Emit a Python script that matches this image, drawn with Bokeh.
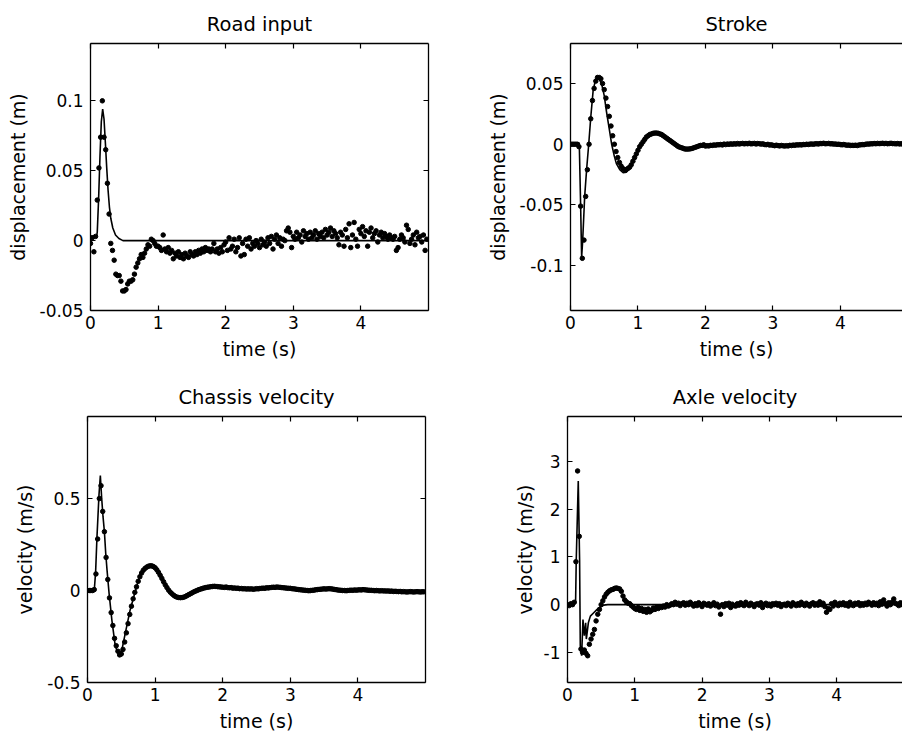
import numpy as np
from bokeh.plotting import figure
from bokeh.models import Range1d, LinearAxis, FixedTicker, CustomJSTickFormatter
from bokeh.layouts import column, row
from bokeh.embed import file_html
from bokeh.resources import INLINE

# ---------------- data ----------------
SAMPLE_DT = 0.025  # measurement sampling interval (s)
x_ticks = [0, 1, 2, 3, 4]

# Road input: measured dots
road_dots = [
    -0.002, 0.002, -0.008, 0.003, 0.029, 0.052, 0.074, 0.100, 0.074, 0.065,
    0.041, 0.019, -0.002, -0.007, -0.014, -0.024, -0.025, -0.025, -0.029, -0.036,
    -0.036, -0.035, -0.031, -0.029, -0.029, -0.028, -0.024, -0.019, -0.016, -0.013,
    -0.010, -0.012, -0.009, -0.006, -0.003, -0.004, 0.001, 0.000, -0.002, -0.004,
    -0.004, -0.005, -0.007, 0.004, -0.006, -0.008, -0.005, -0.009, -0.007, -0.013,
    -0.009, -0.011, -0.008, -0.012, -0.010, -0.013, -0.009, -0.011, -0.012, -0.008,
    -0.010, -0.011, -0.008, -0.010, -0.007, -0.009, -0.006, -0.008, -0.005, -0.007,
    -0.006, -0.008, -0.006, -0.002, -0.008, -0.006, -0.009, -0.005, -0.008, -0.003,
    -0.001, -0.007, 0.002, -0.006, -0.004, 0.001, -0.008, -0.005, 0.002, -0.011,
    -0.002, -0.010, 0.001, -0.004, 0.002, -0.006, -0.002, -0.004, 0.000, -0.002,
    -0.005, 0.001, -0.003, -0.001, -0.004, 0.002, -0.002, 0.003, -0.006, 0.001,
    0.004, -0.002, 0.002, -0.004, 0.001, 0.000, 0.007, 0.009, 0.006, -0.005,
    0.003, 0.001, 0.006, 0.002, 0.004, -0.001, 0.007, 0.003, 0.005, 0.001,
    0.006, 0.002, 0.004, 0.007, 0.001, 0.005, 0.003, 0.006, 0.002, 0.008,
    0.004, 0.006, 0.009, 0.003, 0.007, 0.005, 0.002, -0.003, 0.006, 0.004,
    -0.004, 0.008, 0.002, 0.012, -0.005, 0.004, 0.013, 0.001, -0.004, 0.008,
    0.005, 0.010, 0.003, 0.007, -0.004, 0.006, 0.009, 0.002, 0.005, 0.007,
    -0.001, 0.004, 0.006, 0.002, 0.005, 0.003, 0.001, 0.004, 0.002, 0.001,
    0.003, -0.007, -0.005, 0.001, 0.004, 0.002, -0.001, 0.011, 0.008, -0.002,
    0.001, 0.004, -0.003, 0.006, 0.002, 0.003, -0.001, 0.004, -0.007, 0.001,
]
# Road input: model line
road_line_t = [0, 0.09, 0.10, 0.12, 0.14, 0.16, 0.18, 0.20, 0.22, 0.24, 0.26,
               0.28, 0.30, 0.33, 0.37, 0.42, 0.48, 5.0]
road_line_v = [0.003, 0.003, 0.006, 0.030, 0.060, 0.085, 0.094, 0.087, 0.070,
               0.052, 0.036, 0.024, 0.016, 0.009, 0.004, 0.0015, 0.0, 0.0]

# Stroke: measured dots
stroke_dots = [
    0.0, 0.0, 0.0, 0.0, 0.0, -0.002, -0.051, -0.094, -0.079, -0.043,
    -0.021, 0.000, 0.021, 0.036, 0.046, 0.052, 0.055, 0.055, 0.054, 0.050,
    0.045, 0.038, 0.031, 0.023, 0.015, 0.007, 0.000, -0.006, -0.011, -0.015,
    -0.018, -0.020, -0.021, -0.021, -0.020, -0.019, -0.017, -0.014, -0.011, -0.008,
    -0.005, -0.002, 0.000, 0.002, 0.004, 0.006, 0.007, 0.008, 0.0085, 0.009,
    0.0092, 0.0092, 0.009, 0.0085, 0.008, 0.007, 0.006, 0.005, 0.004, 0.003,
    0.002, 0.001, 0.000, -0.001, -0.002, -0.0025, -0.003, -0.0035, -0.004, -0.004,
    -0.004, -0.0038, -0.0035, -0.003, -0.0025, -0.002, -0.0015, -0.001, -0.001, -0.0005,
    -0.0015, -0.0012, -0.0014, -0.0009, -0.0010, -0.0006, -0.0008, -0.0004,
    -0.0005, -0.0002, -0.0006, 0.0001, -0.0003, 0.0002, -0.0001, 0.0003,
    0.0000, 0.0004, 0.0001, 0.0006, 0.0002, 0.0005, 0.0007, 0.0003,
    0.0006, 0.0004, 0.0008, 0.0003, 0.0005, 0.0007, 0.0002, 0.0006,
    0.0004, 0.0001, 0.0003, -0.0002, -0.0004, -0.0001, -0.0007, -0.0005,
    -0.0009, -0.0012, -0.0008, -0.0011, -0.0014, -0.0010, -0.0013, -0.0015,
    -0.0012, -0.0014, -0.0009, -0.0011, -0.0007, -0.0009, -0.0005, -0.0006,
    -0.0004, -0.0006, -0.0002, -0.0003, 0.0000, -0.0002, 0.0001, 0.0002,
    0.0000, 0.0003, 0.0004, 0.0002, 0.0006, 0.0005, 0.0008, 0.0004,
    0.0005, 0.0007, 0.0003, 0.0004, 0.0001, 0.0002, -0.0001, 0.0000,
    -0.0003, -0.0005, -0.0002, -0.0006, -0.0008, -0.0007, -0.0010, -0.0009,
    -0.0010, -0.0008, -0.0011, -0.0006, -0.0005, -0.0003, -0.0004, 0.0000,
    0.0002, 0.0001, 0.0004, 0.0003, 0.0006, 0.0004, 0.0007, 0.0005,
    0.0006, 0.0008, 0.0005, 0.0007, 0.0004, 0.0006, 0.0008, 0.0005,
    0.0005, 0.0003, 0.0006, 0.0002, 0.0004, 0.0001, 0.0003, 0.0000,
]
stroke_line_t = [0, 0.13, 0.15, 0.165, 0.18, 0.21, 0.24, 0.27, 0.30, 0.335, 0.37,
                 0.41, 0.46, 0.50, 0.53, 0.57, 0.61, 0.65, 0.68, 0.73, 0.78, 0.83,
                 0.88, 0.94, 1.00, 1.08, 1.15, 1.22, 1.28, 1.35, 1.40, 1.48, 1.55,
                 1.62, 1.70, 1.78, 1.85, 1.95, 2.10, 2.40, 3.00, 3.30, 3.60, 4.00,
                 4.50, 5.0]
stroke_line_v = [0.001, 0.001, -0.050, -0.093, -0.080, -0.043, -0.020, 0.000,
                 0.022, 0.044, 0.053, 0.055, 0.050, 0.040, 0.028, 0.014, 0.000,
                 -0.010, -0.016, -0.021, -0.0235, -0.023, -0.019, -0.012, -0.005,
                 0.003, 0.007, 0.009, 0.0095, 0.008, 0.006, 0.002, -0.001, -0.003,
                 -0.004, -0.004, -0.003, -0.0015, -0.0005, 0.0, -0.001, -0.001,
                 0.0, 0.0, 0.0005, 0.0]

# Chassis velocity: measured dots
chassis_dots = [
    0.0, 0.0, 0.0, 0.0, 0.005, 0.09, 0.28, 0.50, 0.57, 0.43,
    0.32, 0.18, 0.06, -0.04, -0.12, -0.19, -0.26, -0.30, -0.33, -0.35,
    -0.345, -0.32, -0.28, -0.23, -0.18, -0.13, -0.085, -0.045, -0.01, 0.02,
    0.05, 0.075, 0.095, 0.11, 0.12, 0.127, 0.132, 0.134, 0.134, 0.13,
    0.124, 0.113, 0.099, 0.083, 0.066, 0.048, 0.031, 0.016, 0.002, -0.009,
    -0.018, -0.026, -0.032, -0.036, -0.038, -0.039, -0.038, -0.036, -0.032, -0.027,
    -0.022, -0.017, -0.012, -0.007, -0.003, 0.001, 0.005, 0.008, 0.011, 0.014,
    0.016, 0.018, 0.019, 0.021, 0.022, 0.023, 0.022, 0.021, 0.020, 0.019,
    0.018, 0.017, 0.019, 0.016, 0.015, 0.016, 0.013, 0.014,
    0.012, 0.013, 0.010, 0.011, 0.009, 0.010, 0.008, 0.009,
    0.008, 0.009, 0.007, 0.008, 0.010, 0.009, 0.011, 0.012,
    0.013, 0.012, 0.015, 0.014, 0.016, 0.017, 0.018, 0.017,
    0.019, 0.018, 0.017, 0.016, 0.015, 0.014, 0.013, 0.012,
    0.012, 0.010, 0.009, 0.008, 0.006, 0.005, 0.004, 0.003,
    0.002, 0.001, 0.000, -0.001, 0.000, 0.001, 0.002, 0.004,
    0.005, 0.006, 0.007, 0.008, 0.009, 0.008, 0.009, 0.010,
    0.009, 0.008, 0.006, 0.005, 0.003, 0.002, 0.001, 0.000,
    0.000, -0.001, 0.000, 0.001, 0.002, 0.001, 0.003, 0.002,
    0.003, 0.004, 0.003, 0.005, 0.004, 0.003, 0.002, 0.001,
    0.001, 0.000, -0.001, 0.000, -0.001, -0.002, -0.001, -0.002,
    -0.002, -0.003, -0.002, -0.004, -0.003, -0.005, -0.004, -0.005,
    -0.006, -0.005, -0.007, -0.006, -0.007, -0.008, -0.007, -0.006,
    -0.007, -0.008, -0.007, -0.006, -0.007, -0.008, -0.007, -0.007,
]
chassis_line_t = [0, 0.10, 0.12, 0.14, 0.17, 0.19, 0.21, 0.23, 0.25, 0.27, 0.29,
                  0.32, 0.36, 0.41, 0.45, 0.48, 0.51, 0.56, 0.63, 0.71, 0.78,
                  0.86, 0.95, 1.00, 1.08, 1.15, 1.23, 1.30, 1.40, 1.50, 1.65,
                  1.80, 1.90, 2.04, 2.30, 2.50, 2.80, 3.00, 3.30, 3.60, 3.80,
                  4.10, 4.40, 4.70, 5.0]
chassis_line_v = [0.0, 0.0, 0.10, 0.29, 0.52, 0.625, 0.50, 0.40, 0.32, 0.20,
                  0.107, -0.018, -0.16, -0.30, -0.34, -0.345, -0.32, -0.23,
                  -0.107, 0.0, 0.089, 0.12, 0.134, 0.128, 0.089, 0.036, -0.009,
                  -0.032, -0.038, -0.025, 0.004, 0.020, 0.023, 0.018, 0.010,
                  0.008, 0.018, 0.012, 0.0, 0.009, 0.0, 0.004, -0.002, -0.007,
                  -0.007]

# Axle velocity: measured dots
axle_dots = [
    0.0, -0.02, 0.02, 0.0, 0.05, 0.90, 2.80, 1.43, -0.93, -1.00,
    -0.95, -1.02, -1.07, -0.83, -0.72, -0.62, -0.52, -0.34, -0.20, -0.10,
    0.00, 0.08, 0.16, 0.22, 0.26, 0.29, 0.31, 0.32, 0.34, 0.35,
    0.34, 0.33, 0.28, 0.18, 0.10, 0.06, 0.03, 0.02, -0.02, -0.05,
    -0.08, -0.10, -0.06, -0.12, -0.08, -0.14, -0.10, -0.16, -0.09, -0.15,
    -0.12, -0.07, -0.10, -0.05, -0.08, -0.04, -0.06, -0.03, -0.05, 0.00,
    -0.03, -0.01, 0.02, 0.00, 0.05, 0.01, 0.03, -0.02,
    0.02, 0.04, -0.01, 0.03, 0.00, 0.05, 0.01, -0.03,
    0.02, -0.02, 0.04, 0.00, -0.04, 0.03, 0.01, -0.01,
    0.02, -0.03, 0.00, 0.04, -0.02, 0.01, -0.05, -0.20,
    0.00, -0.04, 0.02, -0.01, 0.03, -0.06, 0.01, -0.02,
    -0.03, 0.02, -0.01, 0.04, 0.00, -0.02, 0.05, 0.01,
    -0.02, 0.03, 0.00, -0.04, 0.01, 0.02, -0.01, 0.04,
    -0.06, 0.00, 0.03, -0.02, 0.01, -0.03, 0.02, 0.00,
    0.03, -0.01, 0.02, -0.04, 0.00, 0.01, -0.02, 0.03,
    0.00, -0.03, 0.04, 0.01, -0.02, 0.02, -0.01, 0.05,
    0.01, -0.02, 0.03, 0.00, -0.03, 0.02, 0.04, -0.01,
    0.02, -0.01, 0.06, 0.00, 0.03, -0.04, -0.16, -0.08,
    -0.10, 0.02, -0.03, 0.05, 0.01, -0.02, 0.03, 0.00,
    0.04, -0.01, 0.02, -0.03, 0.05, 0.00, -0.02, 0.03,
    0.01, 0.04, -0.02, 0.02, -0.01, 0.03, 0.00, 0.05,
    0.02, -0.01, 0.04, 0.00, 0.03, -0.02, 0.06, 0.01,
    0.10, 0.02, -0.03, 0.04, 0.00, 0.05, 0.12, 0.03,
    0.01, -0.02, 0.04, 0.00,
]
axle_line_t = [0, 0.12, 0.13, 0.16, 0.18, 0.19, 0.21, 0.23, 0.25, 0.27, 0.28,
               0.31, 0.34, 0.39, 0.44, 0.49, 0.54, 0.60, 5.0]
axle_line_v = [0.0, 0.03, 0.93, 2.59, 0.93, -0.86, -1.07, -0.31, -0.65, -0.38,
               -0.72, -0.38, -0.24, -0.17, -0.10, -0.05, -0.01, 0.0, 0.0]

# ---------------- styling ----------------
FONT = "DejaVu Sans"


def times_for(values):
    return np.arange(len(values)) * SAMPLE_DT


def style_axis(ax, ticks, standoff, show_labels=True):
    ax.ticker = FixedTicker(ticks=ticks)
    ax.formatter = CustomJSTickFormatter(code="return String(tick);")
    ax.axis_line_color = "black"
    ax.axis_line_width = 1.3
    ax.major_tick_line_color = "black"
    ax.major_tick_line_width = 1.2
    ax.major_tick_in = 5
    ax.major_tick_out = 0
    ax.minor_tick_line_color = None
    ax.major_label_text_font = FONT
    if show_labels:
        ax.major_label_text_color = "black"
        ax.major_label_text_font_size = "17px"
        ax.major_label_standoff = standoff
    else:
        ax.major_label_text_color = None
        ax.major_label_text_font_size = "1px"
        ax.major_label_standoff = 0
    ax.axis_label_text_font = FONT
    ax.axis_label_text_font_size = "19px"
    ax.axis_label_text_font_style = "normal"
    ax.axis_label_text_color = "black"


def panel(title, ylabel, xend, yr, yticks, dots, lt, lv, width, height,
          bl, br, bt, bb, box_right, ylab_standoff=8):
    p = figure(width=width, height=height, output_backend="svg",
               toolbar_location=None, title=title,
               x_range=Range1d(0, xend), y_range=Range1d(*yr),
               min_border_left=bl, min_border_right=br,
               min_border_top=bt, min_border_bottom=bb)
    p.outline_line_color = None
    p.grid.visible = False
    p.background_fill_color = "white"
    p.border_fill_color = "white"
    p.title.align = "center"
    p.title.text_font = FONT
    p.title.text_font_size = "19.5px"
    p.title.text_font_style = "normal"
    p.title.text_color = "black"
    p.title.standoff = 16

    style_axis(p.xaxis[0], x_ticks, 5)
    style_axis(p.yaxis[0], yticks, 7)
    p.xaxis[0].axis_label = "time (s)"
    p.xaxis[0].axis_label_standoff = 6
    p.yaxis[0].axis_label = ylabel
    p.yaxis[0].axis_label_standoff = ylab_standoff

    top = LinearAxis()
    style_axis(top, x_ticks, 0, show_labels=False)
    p.add_layout(top, "above")
    if box_right:
        rgt = LinearAxis()
        style_axis(rgt, yticks, 0, show_labels=False)
        p.add_layout(rgt, "right")

    p.line(lt, lv, line_color="black", line_width=1.6)
    p.scatter(times_for(dots), dots, size=4.5, marker="circle",
              fill_color="black", line_color="black")
    return p


# top row: 0..370 px tall; bottom row: 370..739 px
p1 = panel("Road input", "displacement (m)", 5.0, (-0.05, 0.141),
           [-0.05, 0, 0.05, 0.1], road_dots, road_line_t, road_line_v,
           480, 370, 90, 52, 43, 60, True)
p2 = panel("Stroke", "displacement (m)", 4.92, (-0.137, 0.083),
           [-0.1, -0.05, 0, 0.05], stroke_dots, stroke_line_t, stroke_line_v,
           422, 370, 90, 0, 43, 60, False)
p3 = panel("Chassis velocity", "velocity (m/s)", 5.0, (-0.5, 0.946),
           [-0.5, 0, 0.5], chassis_dots, chassis_line_t, chassis_line_v,
           480, 369, 87, 55, 46, 57, True)
p4 = panel("Axle velocity", "velocity (m/s)", 4.98, (-1.63, 3.94),
           [-1, 0, 1, 2, 3], axle_dots, axle_line_t, axle_line_v,
           422, 369, 87, 0, 46, 57, False, ylab_standoff=5)

layout = column(row(p1, p2), row(p3, p4))
open("out.html", "w").write(file_html(layout, INLINE))
